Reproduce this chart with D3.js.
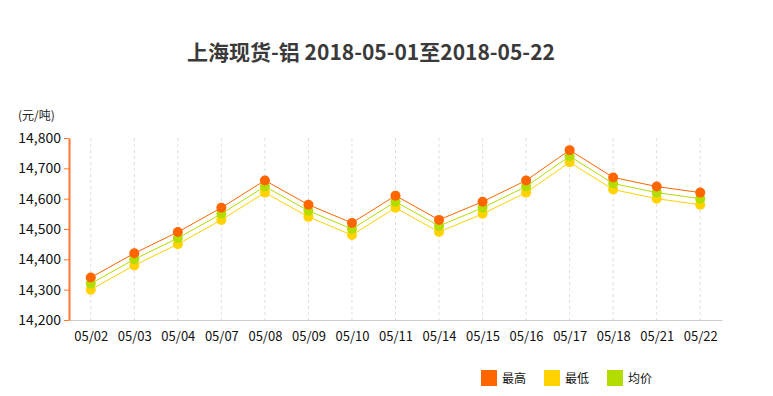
<!DOCTYPE html>
<html>
<head>
<meta charset="utf-8">
<script src="https://cdn.jsdelivr.net/npm/d3@7"></script>
<style>
  body { margin: 0; background: #fff; }
  text { font-family: "Noto Sans CJK SC", "Noto Sans", sans-serif; }
</style>
</head>
<body>
<div id="chart"></div>
<script>
// data
let dates = ["05/02", "05/03", "05/04", "05/07", "05/08", "05/09", "05/10", "05/11",
  "05/14", "05/15", "05/16", "05/17", "05/18", "05/21", "05/22"];
let highs = [14340, 14420, 14490, 14570, 14660, 14580, 14520, 14610, 14530, 14590, 14660, 14760, 14670, 14640, 14620];
let lows = [14300, 14380, 14450, 14530, 14620, 14540, 14480, 14570, 14490, 14550, 14620, 14720, 14630, 14600, 14580];
let avgs = [14320, 14400, 14470, 14550, 14640, 14560, 14500, 14590, 14510, 14570, 14640, 14740, 14650, 14620, 14600];
let yTicks = [14200, 14300, 14400, 14500, 14600, 14700, 14800];

let series = [
  { name: "最高", values: highs, color: "#ff6600" },
  { name: "最低", values: lows, color: "#ffd200" },
  { name: "均价", values: avgs, color: "#b3dc00" }
];

let svgWidth = 773;
let svgHeight = 396;
let margin = { top: 138, right: 51, bottom: 76, left: 69 };
let width = svgWidth - margin.left - margin.right;
let height = svgHeight - margin.top - margin.bottom;

let svg = d3.select("#chart").append("svg")
  .attr("width", svgWidth)
  .attr("height", svgHeight);

// title
svg.append("text")
  .attr("x", 371)
  .attr("y", 60)
  .attr("text-anchor", "middle")
  .attr("font-size", 21)
  .attr("font-weight", "bold")
  .attr("fill", "#3a3a3a")
  .text("上海现货-铝 2018-05-01至2018-05-22");

svg.append("text")
  .attr("x", 18)
  .attr("y", 120)
  .attr("font-size", 12)
  .attr("fill", "#222")
  .text("(元/吨)");

let chartGroup = svg.append("g")
  .attr("transform", `translate(${margin.left}, ${margin.top})`);

let x = d3.scalePoint()
  .domain(dates)
  .range([0, width])
  .padding(0.5);

let y = d3.scaleLinear()
  .domain([14200, 14800])
  .range([height, 0]);

// vertical dashed grid lines
chartGroup.append("g")
  .selectAll("line")
  .data(dates)
  .join("line")
  .attr("x1", d => x(d))
  .attr("x2", d => x(d))
  .attr("y1", 0)
  .attr("y2", height)
  .attr("stroke", "#dddddd")
  .attr("stroke-dasharray", "3,3");

// bottom axis
let bottomAxis = d3.axisBottom(x).tickSize(0).tickPadding(12);
let xAxis = chartGroup.append("g")
  .attr("transform", `translate(0, ${height})`)
  .call(bottomAxis);
xAxis.select(".domain").attr("stroke", "#cccccc");
xAxis.selectAll("text").attr("font-size", 13).attr("fill", "#111");

// left axis
let leftAxis = d3.axisLeft(y).tickValues(yTicks).tickSize(5).tickPadding(3)
  .tickFormat(d3.format(",")).tickSizeOuter(0);
let yAxis = chartGroup.append("g").call(leftAxis);
yAxis.select(".domain").attr("stroke", "#ff7733").attr("stroke-width", 2);
yAxis.selectAll(".tick line").attr("stroke", "#ff7733");
yAxis.selectAll("text").attr("font-size", 14).attr("fill", "#111");

// lines
let line = d3.line()
  .x((d, i) => x(dates[i]))
  .y(d => y(d));

series.forEach(s => {
  chartGroup.append("path")
    .datum(s.values)
    .attr("fill", "none")
    .attr("stroke", s.color)
    .attr("stroke-width", 1)
    .attr("d", line);
});

// points, drawn lows first so highs sit on top like the picture
[series[1], series[2], series[0]].forEach(s => {
  chartGroup.append("g")
    .selectAll("circle")
    .data(s.values)
    .join("circle")
    .attr("cx", (d, i) => x(dates[i]))
    .attr("cy", d => y(d))
    .attr("r", 5)
    .attr("fill", s.color);
});

// legend
let legend = svg.append("g")
  .attr("transform", "translate(481, 370)");

let legendItems = legend.selectAll("g")
  .data(series)
  .join("g")
  .attr("transform", (d, i) => `translate(${i * 63}, 0)`);

legendItems.append("rect")
  .attr("width", 16)
  .attr("height", 16)
  .attr("fill", d => d.color);

legendItems.append("text")
  .attr("x", 21)
  .attr("y", 13)
  .attr("font-size", 12)
  .attr("fill", "#111")
  .text(d => d.name);
</script>
</body>
</html>
